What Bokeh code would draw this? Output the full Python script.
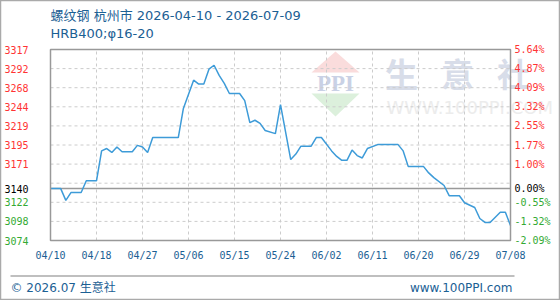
from bokeh.plotting import figure
from bokeh.models import Range1d
from bokeh.core.properties import value
from bokeh.embed import file_html
from bokeh.resources import INLINE

# ---------------- data ----------------
days = [0, 2, 3, 4, 6, 7, 9, 10, 11, 12, 13, 14, 16, 17, 18, 19, 20, 25, 26, 28, 29, 30,
        31, 32, 33, 34, 35, 37, 38, 39, 40, 41, 42, 44, 45, 47, 48, 49, 51, 52, 53, 55,
        56, 57, 58, 59, 60, 61, 62, 64, 68, 69, 70, 73, 74, 75, 77, 78, 80, 81, 83, 84,
        85, 86, 88, 89, 90]
prices = [3140, 3140, 3125, 3135, 3135, 3150, 3150, 3188, 3191, 3186, 3193, 3187, 3187, 3195,
          3193, 3186, 3205, 3205, 3242, 3278, 3273, 3273, 3292, 3297, 3284, 3274, 3261, 3261,
          3252, 3224, 3227, 3223, 3214, 3210, 3247, 3177, 3184, 3194, 3194, 3205, 3205, 3188,
          3181, 3176, 3176, 3189, 3182, 3179, 3191, 3196, 3196, 3188, 3168, 3168, 3160, 3154,
          3144, 3131, 3131, 3122, 3116, 3102, 3097, 3097, 3110, 3110, 3093]

x_tick_pos = [0, 9, 18, 27, 36, 45, 54, 63, 72, 81, 90]
x_tick_labels = ["04/10", "04/18", "04/27", "05/06", "05/15", "05/24",
                 "06/02", "06/11", "06/20", "06/29", "07/08"]

y_grid = [3074, 3098.3, 3122.6, 3146.9, 3171.2, 3195.5, 3219.8, 3244.1, 3268.4, 3292.7, 3317]
y_label_vals = [3074, 3098.3, 3122.6, 3140, 3171.2, 3195.5, 3219.8, 3244.1, 3268.4, 3292.7, 3317]
y_labels = ["3074", "3098", "3122", "3140", "3171", "3195", "3219", "3244", "3268", "3292", "3317"]
pct_labels = ["-2.09%", "-1.32%", "-0.55%", "0.00%", "1.00%", "1.77%", "2.55%",
              "3.32%", "4.09%", "4.87%", "5.64%"]
base_price = 3140

title_line1 = "螺纹钢 杭州市 2026-04-10 - 2026-07-09"
title_line2 = "HRB400;φ16-20"
footer_left = "© 2026.07 生意社"
footer_right = "www.100PPI.com"

RED = "#ff3333"
GREEN = "#33aa33"
BLUE_TXT = "#1b6094"
LINE = "#3d9bd8"

XMIN, XMAX = 0, 90
YMIN, YMAX = 3074, 3317
FL, FR, FT, FB = 50, 510, 49, 240   # plot-area pixel edges
W, H = 560, 300


def px2x(px):
    return XMIN + (px - FL) * (XMAX - XMIN) / (FR - FL)


def py2y(py):
    return YMIN + (FB - py) * (YMAX - YMIN) / (FB - FT)


p = figure(width=W, height=H, output_backend="svg", toolbar_location=None,
           x_range=Range1d(px2x(0), px2x(W)), y_range=Range1d(py2y(H), py2y(0)),
           x_axis_location=None, y_axis_location=None, min_border=0, title=None)
p.grid.visible = False
p.background_fill_color = "white"
p.border_fill_color = "white"
p.outline_line_color = "#aaaaaa"
p.outline_line_width = 1.5

SANS = value("DejaVu Sans, Noto Sans CJK SC")
MONO = value("DejaVu Sans Mono")

# watermark
p.patch([px2x(311), px2x(335), px2x(359)], [py2y(72), py2y(51), py2y(72)],
        fill_color="#fadcdc", line_color=None)
p.patch([px2x(311), px2x(335), px2x(359)], [py2y(93), py2y(116), py2y(93)],
        fill_color="#dcf0dc", line_color=None)
p.text([px2x(335)], [py2y(83)], text=["PPI"], text_font=value("Liberation Serif"),
       text_font_style="bold", text_font_size="23px", text_color="#c9d1e5",
       text_align="center", text_baseline="middle")
p.text([px2x(401), px2x(457), px2x(513)], [py2y(72)] * 3, text=["生", "意", "社"],
       text_font=value("Noto Sans CJK SC"), text_font_style="bold", text_font_size="33px",
       text_color="#d8dde9", text_align="center", text_baseline="middle")
p.text([px2x(386)], [py2y(107)], text=["WWW.100PPI.COM"], text_font=value("DejaVu Sans"),
       text_font_size="18px", text_color="#ececec", text_align="left", text_baseline="middle")

# grid
p.segment(x0=x_tick_pos, x1=x_tick_pos, y0=[YMIN] * len(x_tick_pos), y1=[YMAX] * len(x_tick_pos),
          line_color="#cccccc", line_dash="3 3", line_width=1)
p.segment(x0=[XMIN] * len(y_grid), x1=[XMAX] * len(y_grid), y0=y_grid, y1=y_grid,
          line_color="#cccccc", line_dash="3 3", line_width=1)

# baseline
p.segment(x0=[XMIN], x1=[XMAX], y0=[base_price], y1=[base_price],
          line_color="#999999", line_width=1.5)

# price line
p.line(days, prices, line_color=LINE, line_width=1.5)

# plot border
p.quad(left=[XMIN], right=[XMAX], bottom=[YMIN], top=[YMAX], fill_color=None,
       line_color="#999999", line_width=1.5)

# tick labels
p.text(x=x_tick_pos, y=[py2y(255)] * len(x_tick_pos), text=x_tick_labels,
       text_font=MONO, text_font_size="10px", text_color=BLUE_TXT,
       text_align="center", text_baseline="middle")
cols = [RED if v > base_price + 0.5 else (GREEN if v < base_price - 0.5 else "#000000")
        for v in y_label_vals]
p.text(x=[px2x(28)] * len(y_labels), y=y_label_vals, text=y_labels, text_color=cols,
       text_font=MONO, text_font_size="10px", text_align="right", text_baseline="middle")
p.text(x=[px2x(514)] * len(pct_labels), y=y_label_vals, text=pct_labels, text_color=cols,
       text_font=MONO, text_font_size="10px", text_align="left", text_baseline="middle")

# titles
p.text([px2x(50)], [py2y(15)], text=[title_line1], text_font=SANS, text_font_size="13px",
       text_color=BLUE_TXT, text_baseline="middle")
p.text([px2x(50)], [py2y(33)], text=[title_line2], text_font=SANS, text_font_size="13px",
       text_color=BLUE_TXT, text_baseline="middle")

# footer
p.segment(x0=[px2x(10)], x1=[px2x(514)], y0=[py2y(275.5)], y1=[py2y(275.5)],
          line_color="#aaaaaa", line_width=1.5)
p.text([px2x(10)], [py2y(287)], text=[footer_left], text_font=SANS, text_font_size="12px",
       text_color=BLUE_TXT, text_baseline="middle")
p.text([px2x(512)], [py2y(287)], text=[footer_right], text_font=value("DejaVu Sans"),
       text_font_size="12px", text_color=BLUE_TXT, text_baseline="middle", text_align="right")

open("out.html", "w").write(file_html(p, INLINE))
